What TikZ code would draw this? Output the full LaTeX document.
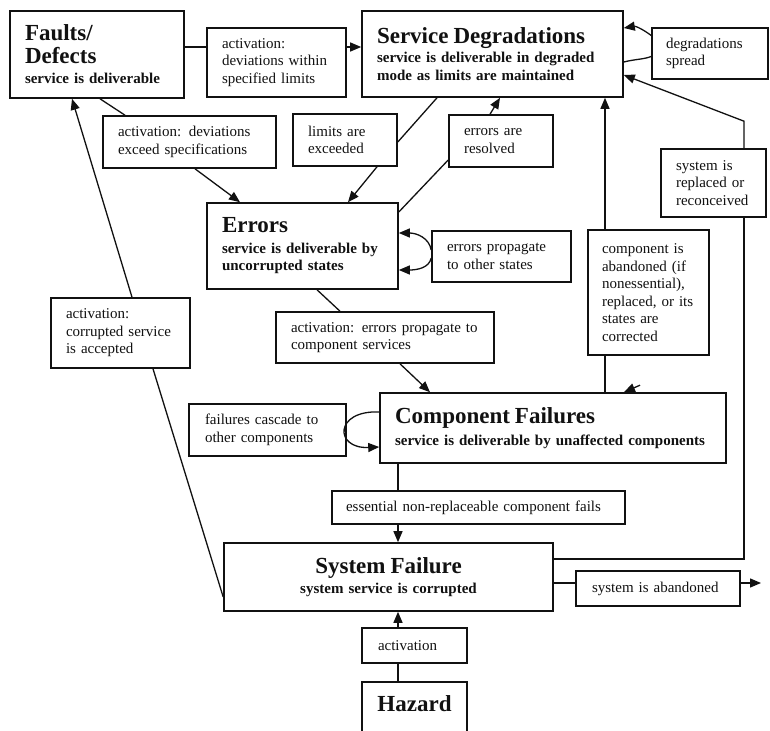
\documentclass[tikz,border=0pt]{standalone}
\usepackage{fontspec}
\setmainfont{Liberation Serif}
\usetikzlibrary{arrows.meta}
\definecolor{fmInk}{HTML}{111111}
\newcommand\fmTitle{\fontsize{23}{26}\selectfont\bfseries}
\newcommand\fmSub{\fontsize{15}{17.5}\selectfont\bfseries}
\newcommand\fmText{\fontsize{15}{17.5}\selectfont}
\tikzset{
  every picture/.style={text=fmInk},
  fm box/.style={draw=fmInk, line width=1.6pt, fill=white, align=left,
    inner xsep=15pt, font=\fmSub},
  fm label/.style={draw=fmInk, line width=1.6pt, fill=white, align=left,
    inner xsep=15pt, font=\fmText},
  fm line/.style={draw=fmInk, line width=1.3pt},
  fm arrow/.style={fm line, -{Triangle[length=11pt,width=9pt]}}
}

\begin{document}
\begin{tikzpicture}[x=1pt,y=-1pt]
  \fill[white] (0,0) rectangle (770,730);
  \useasboundingbox (0,0) rectangle (770,730);

  % states
  \node[fm box, text width=144pt, minimum height=87pt] (faults) at (97,54.5)
    {{\fmTitle Faults/\\[5pt]Defects}\\[3pt]service is deliverable};
  \node[fm box, text width=231pt, minimum height=86pt] (degr) at (492.5,54)
    {{\fmTitle Service Degradations}\\[2pt]service is deliverable in degraded\\mode as limits are maintained};
  \node[fm box, text width=161pt, minimum height=86pt] (errors) at (302.5,246)
    {{\fmTitle Errors}\\[3pt]service is deliverable by\\uncorrupted states};
  \node[fm box, text width=316pt, minimum height=70pt] (compfail) at (553,428)
    {{\fmTitle Component Failures}\\[4pt]service is deliverable by unaffected components\\[2pt]};
  \node[fm box, align=center, text width=299pt, minimum height=68pt] (sysfail) at (388.5,577)
    {{\fmTitle System Failure}\\[2pt]system service is corrupted};
  \node[fm box, align=center, text width=75pt, minimum height=60pt, text depth=16pt,
    anchor=north] (hazard) at (414.5,681) {\fmTitle Hazard};

  % transition labels
  \node[fm label, text width=109pt, minimum height=69pt] (lblWithin) at (276.5,62.5)
    {activation:\\deviations within\\specified limits};
  \node[fm label, inner xsep=14pt, text width=88pt, minimum height=51pt] (lblSpread) at (710,53.5)
    {degradations\\spread};
  \node[fm label, text width=143pt, minimum height=52pt] (lblExceed) at (189.5,142)
    {activation: deviations\\exceed specifications};
  \node[fm label, text width=74pt, minimum height=52pt] (lblLimits) at (345,140)
    {limits are\\exceeded};
  \node[fm label, text width=74pt, minimum height=52pt] (lblResolved) at (501,141)
    {errors are\\resolved};
  \node[fm label, text width=75pt, minimum height=68pt] (lblReplaced) at (713.5,183)
    {system is\\replaced or\\reconceived};
  \node[fm label, text width=109pt, minimum height=51pt] (lblPropagate) at (501.5,256.5)
    {errors propagate\\to other states};
  \node[fm label, inner xsep=14pt, text width=93pt, minimum height=125pt] (lblAbandonComp) at (648.5,292.5)
    {component is\\abandoned (if\\nonessential),\\replaced, or its\\states are\\corrected};
  \node[fm label, text width=109pt, minimum height=70pt] (lblCorrupted) at (120.5,333)
    {activation:\\corrupted service\\is accepted};
  \node[fm label, text width=188pt, minimum height=51pt] (lblToComp) at (385,337.5)
    {activation: errors propagate to\\component services};
  \node[fm label, inner xsep=16pt, text width=125pt, minimum height=52pt] (lblCascade) at (267.5,430)
    {failures cascade to\\other components};
  \node[fm label, inner xsep=14pt, text width=265pt, minimum height=33pt] (lblEssential) at (478.5,507.5)
    {essential non-replaceable component fails};
  \node[fm label, inner xsep=16pt, text width=132pt, minimum height=35pt] (lblAbandonSys) at (658,588.5)
    {system is abandoned};
  \node[fm label, inner xsep=16pt, text width=73pt, minimum height=35pt] (lblActivation) at (414.5,645.5)
    {activation};
  \coordinate (abandonEnd) at (761,583);

  % faults -> degradations
  \draw[fm line] ([yshift=7.5pt]faults.east) -- ([yshift=15.5pt]lblWithin.west);
  \draw[fm arrow] ([yshift=15.5pt]lblWithin.east) -- ([yshift=7pt]degr.west);
  % degradations spread
  \draw[fm line] ([yshift=-8pt]degr.east) .. controls +(12,-3) and +(-8,3) .. ([yshift=-3pt]lblSpread.west);
  \draw[fm arrow] ([yshift=18pt]lblSpread.west) .. controls +(-8,-6) and +(12,-2) .. ([yshift=26pt]degr.east);
  % system replaced
  \draw[fm line] ([yshift=18pt]sysfail.east) -| ([xshift=30.5pt]lblReplaced.south);
  \draw[fm arrow] ([xshift=30.5pt]lblReplaced.north) -- ++(0,-27) -- ([yshift=-21pt]degr.east);
  % component abandoned
  \draw[fm line] ([xshift=52pt]compfail.north) -- ([xshift=-43.5pt]lblAbandonComp.south);
  \draw[fm arrow] ([xshift=-43.5pt]lblAbandonComp.north) -- ([xshift=112.5pt]degr.south);
  \draw[fm arrow] ([xshift=87pt,yshift=7pt]compfail.north) -- ([xshift=71pt]compfail.north);
  % errors propagate
  \draw[fm arrow] ([yshift=6.5pt]lblPropagate.west) .. controls +(-2,-12) and +(18,0) .. ([yshift=13pt]errors.east);
  \draw[fm arrow] ([yshift=-1.5pt]lblPropagate.west) .. controls +(-2,10) and +(18,0) .. ([yshift=-24pt]errors.east);
  % failures cascade
  \draw[fm arrow] ([yshift=16pt]compfail.west) .. controls +(-45,-2) and +(-45,2) .. ([yshift=-19pt]compfail.west);
  % into errors
  \draw[fm line] ([xshift=3pt]faults.south) -- ([xshift=-64.5pt]lblExceed.north);
  \draw[fm arrow] ([xshift=5.5pt]lblExceed.south) -- ([xshift=-62.5pt]errors.north);
  \draw[fm line] ([xshift=-55.5pt]degr.south) -- ([yshift=-2pt]lblLimits.east);
  \draw[fm arrow] ([xshift=32pt]lblLimits.south) -- ([xshift=45.5pt]errors.north);
  \draw[fm line] ([yshift=34pt]errors.east) -- ([yshift=-19pt]lblResolved.west);
  \draw[fm arrow] ([xshift=-11pt]lblResolved.north) -- ([xshift=7.5pt]degr.south);
  % errors -> component failures -> system failure
  \draw[fm line] ([xshift=14.5pt]errors.south) -- ([xshift=-45pt]lblToComp.north);
  \draw[fm arrow] ([xshift=15pt]lblToComp.south) -- ([xshift=-123pt]compfail.north);
  \draw[fm line] ([xshift=-155pt]compfail.south) -- ([xshift=-80.5pt]lblEssential.north);
  \draw[fm arrow] ([xshift=-80.5pt]lblEssential.south) -- ([xshift=9.5pt]sysfail.north);
  % system failure outcomes
  \draw[fm line] ([yshift=-6pt]sysfail.east) -- ([yshift=5.5pt]lblAbandonSys.west);
  \draw[fm arrow] ([yshift=5.5pt]lblAbandonSys.east) -- (abandonEnd);
  \draw[fm line] ([xshift=-16.5pt]hazard.north) -- ([xshift=-16.5pt]lblActivation.south);
  \draw[fm arrow] ([xshift=-16.5pt]lblActivation.north) -- ([xshift=9.5pt]sysfail.south);
  \draw[fm line] ([yshift=-20pt]sysfail.west) -- ([xshift=32.5pt]lblCorrupted.south);
  \draw[fm arrow] ([xshift=11.5pt]lblCorrupted.north) -- ([xshift=-25pt]faults.south);
\end{tikzpicture}
\end{document}
